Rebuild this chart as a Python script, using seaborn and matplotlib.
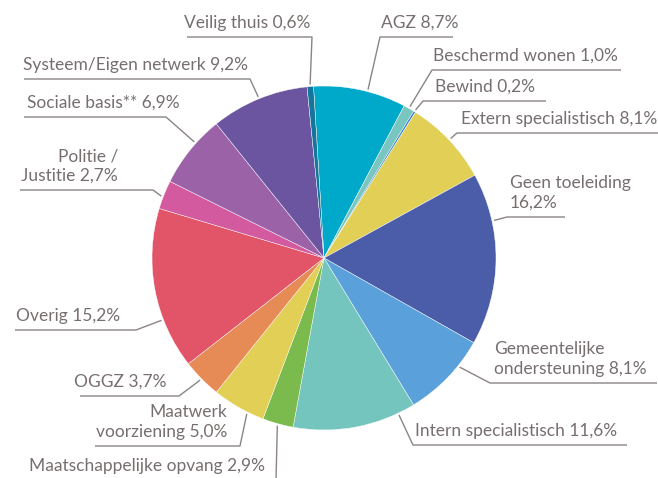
import matplotlib
matplotlib.use("Agg")
import numpy as np
import matplotlib.pyplot as plt
import seaborn as sns

# --- data (in clockwise order, starting at the top) ---
categories = ["AGZ", "Beschermd wonen", "Bewind", "Extern specialistisch",
              "Geen toeleiding", "Gemeentelijke\nondersteuning",
              "Intern specialistisch", "Maatschappelijke opvang",
              "Maatwerk\nvoorziening", "OGGZ", "Overig", "Politie /\nJustitie",
              "Sociale basis**", "Systeem/Eigen netwerk", "Veilig thuis"]
percentages = [8.7, 1.0, 0.2, 8.1, 16.2, 8.1, 11.6, 2.9, 5.0, 3.7, 15.2,
               2.7, 6.9, 9.2, 0.6]
separators = [" ", " ", " ", " ", "\n", " ", " ", " ", " ", " ", " ", " ",
              " ", " ", " "]
colors = ["#00a9c9", "#79c6c0", "#3a86cc", "#e2cf55", "#4b5da8", "#5aa0da",
          "#74c5be", "#7bbb4e", "#e2cf55", "#e68a56", "#e25568", "#d35a9e",
          "#9c62a8", "#6b55a0", "#14769a"]

# --- label layout in pixels (y from top): alignment, text x, underline y,
#     outer end of underline, elbow x, position of the leader inside the wedge
ha_list = ["left", "left", "left", "left", "left", "left", "left", "right",
           "right", "right", "right", "right", "right", "right", "right"]
text_x = [381, 433, 435, 461, 510, 494, 415, 265, 227, 167, 120, 118, 180, 248, 310]
line_y = [37, 70, 101, 133, 217, 383, 445, 480, 446, 396, 330, 190, 117, 79, 37]
line_end = [453, 621, 546, 658, 565, 657, 627, 20, 95, 80, 15, 20, 24, 24, 187]
elbow_x = [380, 432, 423, 457, 507, 490, 413, 276, 240, 179, 136, 153, 166, 250, 312]
wedge_pos = [0.58, 0.5, 0.5, 0.5, 0.28, 0.32, 0.14, 0.5, 0.31, 0.5, 0.31,
             0.42, 0.62, 0.5, 0.5]

W, H = 658, 478
CX, CY, R = 324, 258, 172
TEXT_COLOR = "#776f6f"
LINE_COLOR = "#8c8484"

sns.set_theme(style="white")
plt.rcParams["font.family"] = ["Lato", "DejaVu Sans"]

fig = plt.figure(figsize=(W / 100, H / 100), dpi=100)
ax = fig.add_axes([0, 0, 1, 1])

wedges, _ = ax.pie(percentages, colors=colors, startangle=93.5,
                   counterclock=False, center=(CX, H - CY), radius=R,
                   wedgeprops=dict(edgecolor="white", linewidth=0.3))
ax.set_xlim(0, W)
ax.set_ylim(0, H)
ax.set_aspect("equal")
ax.axis("off")

for i, w in enumerate(wedges):
    # leader starts on the rim of its wedge
    ang = np.deg2rad(w.theta2 - wedge_pos[i] * (w.theta2 - w.theta1))
    ax_ = CX + (R + 2) * np.cos(ang)
    ay_ = (H - CY) + (R + 2) * np.sin(ang)
    uy = H - line_y[i]
    ax.plot([ax_, elbow_x[i], line_end[i]], [ay_, uy, uy],
            color=LINE_COLOR, lw=1.0, solid_capstyle="butt", clip_on=True)

    label = categories[i] + separators[i] + f"{percentages[i]:.1f}%".replace(".", ",")
    lines = label.split("\n")
    for k, txt in enumerate(reversed(lines)):
        ax.text(text_x[i], uy + 9 + k * 20, txt, ha=ha_list[i], va="baseline",
                fontsize=12.5, color=TEXT_COLOR)

fig.savefig("out.png", dpi=100)
